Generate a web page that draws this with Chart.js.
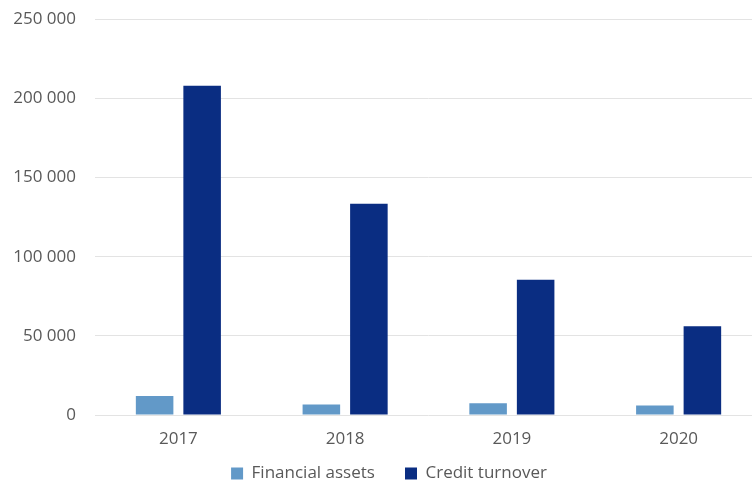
<!DOCTYPE html>
<html>
<head>
<meta charset="UTF-8" />
<script src="https://cdn.jsdelivr.net/npm/chart.js"></script>
<style>
  html, body { margin: 0; padding: 0; background: #fff; overflow: hidden; }
  #wrap { width: 762px; height: 491px; margin-top: -10px; }
</style>
</head>
<body>
<div id="wrap"><canvas id="c" width="762" height="491"></canvas></div>
<script>
  // data
  const years = ["2017", "2018", "2019", "2020"];
  const financialAssets = [12000, 6700, 7400, 6000];
  const creditTurnover = [208000, 133500, 85500, 56000];
  const yTicks = [0, 50000, 100000, 150000, 200000, 250000];

  const fmt = (v) => String(v).replace(/\B(?=(\d{3})+(?!\d))/g, " ");
  const txt = "#595959";
  const font = { family: "Open Sans", size: 17 };

  // nudge legend to the right a little, like the reference
  const legendShift = {
    id: "legendShift",
    afterLayout(chart) {
      if (chart.legend) { chart.legend.left += 8; chart.legend.right += 8; }
    }
  };

  new Chart(document.getElementById("c"), {
    type: "bar",
    data: {
      labels: years,
      datasets: [
        { label: "Financial assets", data: financialAssets, backgroundColor: "#6299C8" },
        { label: "Credit turnover", data: creditTurnover, backgroundColor: "#0A2D82" }
      ]
    },
    options: {
      animation: false,
      responsive: false,
      maintainAspectRatio: false,
      layout: { padding: { top: -2, left: 0, right: 0, bottom: -11 } },
      datasets: { bar: { categoryPercentage: 0.57, barPercentage: 0.79 } },
      plugins: {
        legend: {
          position: "bottom",
          labels: {
            color: txt,
            font: font,
            boxWidth: 12,
            boxHeight: 12,
            padding: 8,
            generateLabels: (chart) => {
              const items = Chart.defaults.plugins.legend.labels.generateLabels(chart);
              items[0].text = items[0].text + "\u00a0\u00a0\u00a0\u00a0\u00a0";
              return items;
            }
          }
        },
        tooltip: { enabled: false }
      },
      scales: {
        x: {
          grid: { display: false },
          border: { display: false },
          ticks: { color: txt, font: font, padding: 6 },
          afterFit: (axis) => { axis.height = 42; }
        },
        y: {
          min: 0,
          max: 250000,
          afterBuildTicks: (axis) => { axis.ticks = yTicks.map((v) => ({ value: v })); },
          grid: { color: "#E3E3E3", drawTicks: false },
          border: { display: false },
          ticks: {
            color: txt,
            font: font,
            padding: 19,
            callback: (v) => fmt(v)
          },
          afterFit: (axis) => { axis.width = 95; }
        }
      }
    },
    plugins: [legendShift]
  });
</script>
</body>
</html>
